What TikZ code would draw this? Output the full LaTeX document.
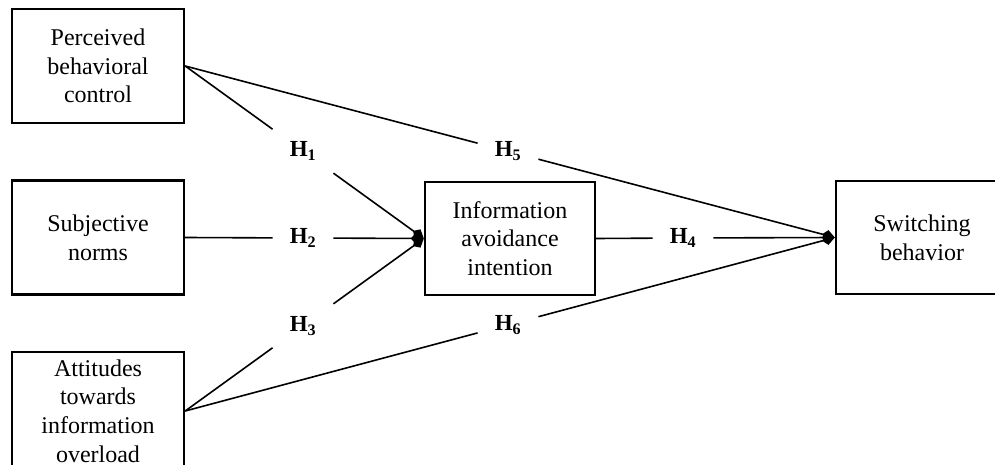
\documentclass[tikz,border=0pt]{standalone}
\usepackage{fontspec}
\setmainfont{Liberation Serif}
\usetikzlibrary{arrows.meta}

\begin{document}
\begin{tikzpicture}[x=1pt,y=1pt]
\tikzset{
  construct/.style={draw=black,line width=2.4pt,minimum width=172pt,minimum height=114pt,
                    align=center,fill=white,font=\fontsize{24}{28.7}\selectfont},
  hyp/.style={inner xsep=17pt,inner ysep=14pt,font=\bfseries\fontsize{23}{25}\selectfont},
  link/.style={line width=1.6pt},
  path/.style={line width=1.6pt,-{Kite[length=13pt,width=11pt,inset=5pt]}}
}
\useasboundingbox (0,0) rectangle (995,464);

% ---------- constructs ---------------------------------------------------
\node[construct] (pbc)  at (98,398)   {Perceived\\behavioral\\control};
\node[construct] (sn)   at (98,226.5) {Subjective\\norms};
\node[construct,minimum height=118pt] (atio) at (98,53) {Attitudes\\towards\\information\\overload};
\node[construct,minimum width=170pt,minimum height=113pt] (iai) at (510,225.5) {Information\\avoidance\\intention};
\node[construct,minimum height=113pt] (sb) at (922,226.5) {Switching\\behavior};

% ---------- hypotheses ---------------------------------------------------
\node[hyp] (h1) at (303,312.8) {H\textsubscript{1}};
\node[hyp] (h2) at (303,226)   {H\textsubscript{2}};
\node[hyp] (h3) at (303,138.2) {H\textsubscript{3}};
\node[hyp] (h4) at (683,226)   {H\textsubscript{4}};
\node[hyp] (h5) at (508,312.8) {H\textsubscript{5}};
\node[hyp] (h6) at (508,139.2) {H\textsubscript{6}};

\draw[link] (pbc.east) -- (h1);  \draw[path] (h1) -- (iai.west);
\draw[link] (sn.east) -- (h2);   \draw[path] (h2) -- (iai.west);
\draw[link] (atio.east) -- (h3); \draw[path] (h3) -- (iai.west);
\draw[link] (iai.east) -- (h4);  \draw[path] (h4) -- (sb.west);
\draw[link] (pbc.east) -- (h5);  \draw[path] (h5) -- (sb.west);
\draw[link] (atio.east) -- (h6); \draw[path] (h6) -- (sb.west);
\end{tikzpicture}
\end{document}
